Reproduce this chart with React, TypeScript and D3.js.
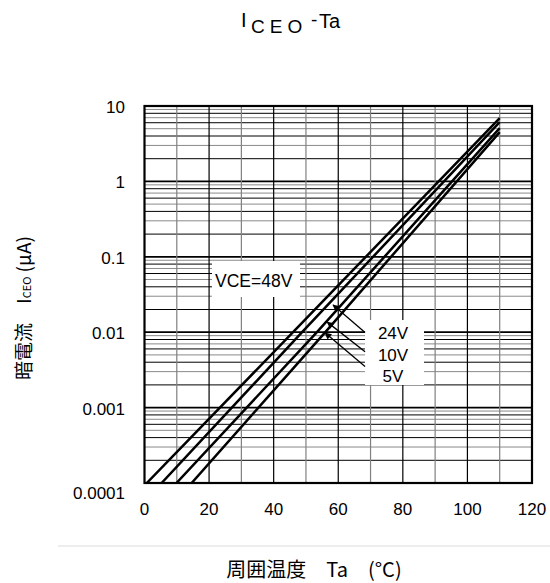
import React from "react";
import * as d3 from "d3";

const xTicks = [0, 20, 40, 60, 80, 100, 120];
const xGrid = [10, 20, 30, 40, 50, 60, 70, 80, 90, 100, 110];
const yTicks = [1e-4, 1e-3, 1e-2, 1e-1, 1, 10];
const yTickLabels = ["0.0001", "0.001", "0.01", "0.1", "1", "10"];
const minorSteps = [2, 3, 4, 5, 6, 7, 8, 9];

const seriesNames = ["48V", "24V", "10V", "5V"];
const temps48 = [0.7, 46, 110];
const vals48 = [1e-4, 0.01, 6.9];
const temps24 = [5.3, 48.8, 110];
const vals24 = [1e-4, 0.01, 6.1];
const temps10 = [9.9, 53.4, 110];
const vals10 = [1e-4, 0.01, 5.1];
const temps5 = [14.6, 56, 110];
const vals5 = [1e-4, 0.01, 4.5];

// annotation arrows (tail -> tip) in data coordinates
const arrowTailT = [68.3, 68.3, 68.3];
const arrowTailV = [0.0099, 0.0055, 0.0035];
const arrowTipT = [58.4, 56.6, 55.9];
const arrowTipV = [0.023, 0.0136, 0.0098];

const W = 550;
const H = 583;
const FONT = "'Liberation Sans', Arial, sans-serif";
const JFONT = "'Noto Sans CJK JP', 'Liberation Sans', sans-serif";

export default function App() {
  const x = d3.scaleLinear().domain([0, 120]).range([144.5, 532]);
  const y = d3.scaleLog().domain([1e-4, 10]).range([483, 106]);
  const [x0, x1] = x.range();
  const [yb, yt] = y.range();

  const allSeries = [
    { name: seriesNames[0], t: temps48, v: vals48 },
    { name: seriesNames[1], t: temps24, v: vals24 },
    { name: seriesNames[2], t: temps10, v: vals10 },
    { name: seriesNames[3], t: temps5, v: vals5 },
  ];
  const line = d3
    .line<[number, number]>()
    .x((d) => x(d[0]))
    .y((d) => y(d[1]));

  const minorLines: { v: number; k: number }[] = [];
  yTicks.slice(0, -1).forEach((d) => {
    minorSteps.forEach((k) => minorLines.push({ v: d * k, k }));
  });

  return (
    <svg
      width={W}
      height={H}
      style={{ position: "absolute", left: 0, top: 0, background: "#fff" }}
    >
      <defs>
        <clipPath id="plot">
          <rect x={x0} y={yt} width={x1 - x0} height={yb - yt} />
        </clipPath>
        <marker
          id="ah"
          viewBox="0 0 10 10"
          refX="9"
          refY="5"
          markerWidth="9"
          markerHeight="7"
          orient="auto"
          markerUnits="userSpaceOnUse"
        >
          <path d="M0,0 L10,5 L0,10 z" fill="#000" />
        </marker>
      </defs>

      {/* title */}
      <text fontFamily={FONT} fill="#000">
        <tspan x={241} y={27} fontSize={20}>I</tspan>
        <tspan x={251} y={33} fontSize={19} letterSpacing={5}>CEO</tspan>
        <tspan x={311} y={26} fontSize={19}>-</tspan>
        <tspan x={319} y={28} fontSize={20}>Ta</tspan>
      </text>

      {/* minor horizontal grid */}
      {minorLines.map((m, i) => (
        <line
          key={"m" + i}
          x1={x0}
          x2={x1}
          y1={y(m.v)}
          y2={y(m.v)}
          stroke={m.k % 2 === 0 ? "#000" : "#8a8a8a"}
          strokeWidth={1}
        />
      ))}
      {/* decade lines */}
      {yTicks.map((t, i) => (
        <line
          key={"d" + i}
          x1={x0}
          x2={x1}
          y1={y(t)}
          y2={y(t)}
          stroke="#000"
          strokeWidth={1.7}
        />
      ))}
      {/* vertical grid */}
      {xGrid.map((t) => (
        <line
          key={"v" + t}
          x1={x(t)}
          x2={x(t)}
          y1={yt}
          y2={yb}
          stroke={t % 20 === 0 ? "#000" : "#808080"}
          strokeWidth={1.2}
        />
      ))}

      {/* curves */}
      <g clipPath="url(#plot)">
        {allSeries.map((s) => (
          <path
            key={s.name}
            d={line(s.t.map((t, i) => [t, s.v[i]] as [number, number])) || ""}
            fill="none"
            stroke="#000"
            strokeWidth={2.5}
          />
        ))}
      </g>

      {/* frame */}
      <rect
        x={x0}
        y={yt}
        width={x1 - x0}
        height={yb - yt}
        fill="none"
        stroke="#000"
        strokeWidth={2.2}
      />

      {/* VCE label */}
      <rect x={212} y={261} width={88} height={36} fill="#fff" />
      <text x={215} y={287} fontFamily={FONT} fontSize={17.5} fill="#000">
        VCE=48V
      </text>

      {/* other voltage labels */}
      <rect x={365} y={320} width={59} height={65} fill="#fff" />
      {seriesNames.slice(1).map((n, i) => (
        <text
          key={n}
          x={393}
          y={339 + i * 21.5}
          textAnchor="middle"
          fontFamily={FONT}
          fontSize={17}
          fill="#000"
        >
          {n}
        </text>
      ))}
      {arrowTailT.map((t, i) => (
        <line
          key={"a" + i}
          x1={x(t)}
          y1={y(arrowTailV[i])}
          x2={x(arrowTipT[i])}
          y2={y(arrowTipV[i])}
          stroke="#000"
          strokeWidth={1.3}
          markerEnd="url(#ah)"
        />
      ))}

      {/* y tick labels */}
      {yTicks.map((t, i) => (
        <text
          key={"yl" + i}
          x={125}
          y={y(t) + (i === 0 ? 16 : 7)}
          textAnchor="end"
          fontFamily={FONT}
          fontSize={17}
          fill="#000"
        >
          {yTickLabels[i]}
        </text>
      ))}
      {/* x tick labels */}
      {xTicks.map((t) => (
        <text
          key={"xl" + t}
          x={x(t)}
          y={515}
          textAnchor="middle"
          fontFamily={FONT}
          fontSize={17}
          fill="#000"
        >
          {t}
        </text>
      ))}

      {/* separator */}
      <line x1={58} x2={550} y1={546} y2={546} stroke="#dcdcdc" strokeWidth={1} />

      {/* x axis label */}
      <text
        x={314}
        y={577}
        textAnchor="middle"
        fontFamily={JFONT}
        fontSize={20}
        fill="#000"
      >
        {"周囲温度　Ta　(°C)"}
      </text>

      {/* y axis label */}
      <text
        transform="translate(31,308) rotate(-90)"
        textAnchor="middle"
        fontFamily={JFONT}
        fontSize={19}
        fill="#000"
      >
        <tspan>{"暗電流　I"}</tspan>
        <tspan fontSize={11}>CEO</tspan>
        <tspan>{" (μA)"}</tspan>
      </text>
    </svg>
  );
}
